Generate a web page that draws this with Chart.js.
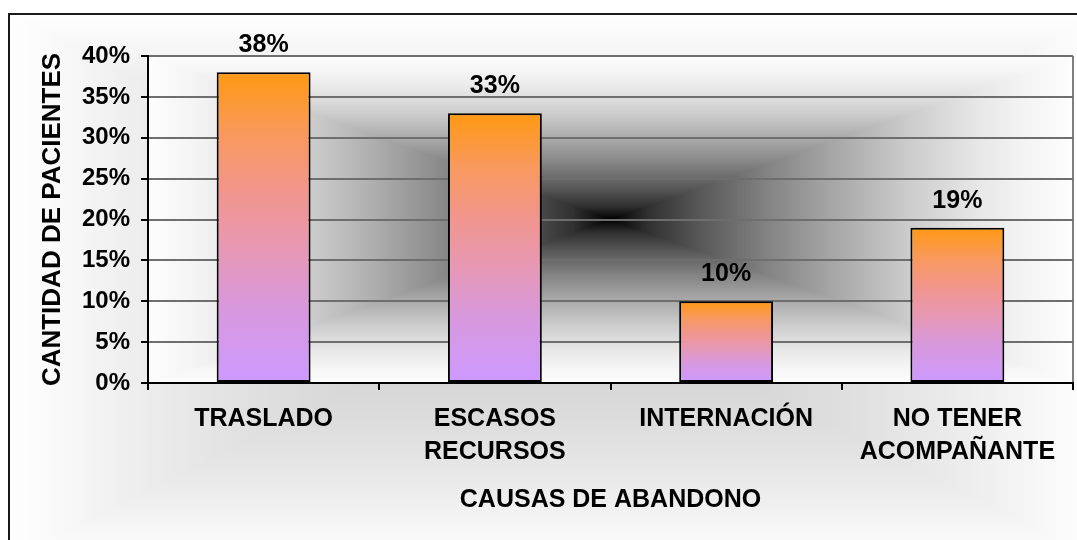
<!DOCTYPE html>
<html><head><meta charset="utf-8">
<script src="https://cdn.jsdelivr.net/npm/chart.js@4.4.1/dist/chart.umd.min.js"></script>
<style>html,body{margin:0;padding:0;background:#fff;overflow:hidden}canvas{display:block}</style>
</head><body>
<canvas id="c" width="1077" height="540"></canvas>
<script>
// ---- data ----
const categories = [['TRASLADO'], ['ESCASOS', 'RECURSOS'], ['INTERNACIÓN'], ['NO TENER', 'ACOMPAÑANTE']];
const values = [38, 33, 10, 19];
const yTickValues = [0, 5, 10, 15, 20, 25, 30, 35, 40];
const xTitle = 'CAUSAS DE ABANDONO';
const yTitle = 'CANTIDAD DE PACIENTES';

// ---- styles ----
const FAMILY = '"Liberation Sans", Arial, Helvetica, sans-serif';
const barStops = [[0, '#ff9912'], [0.2, '#f8995e'], [0.4, '#f09590'], [0.55, '#e898b0'], [0.75, '#d898dc'], [1, '#cc99ff']];
const plotGray = [[0, 0], [0.08, 0x30], [0.2, 0x5a], [0.35, 0x86], [0.5, 0xab], [0.65, 0xcd], [0.8, 0xe8], [0.9, 0xf4], [1, 0xfd]];
const outerGray = [[0, 0xc8], [0.3, 0xd4], [0.5, 0xdd], [0.65, 0xe6], [0.8, 0xf0], [0.9, 0xf8], [1, 0xff]];

function interp(stops, t) {
  if (t <= stops[0][0]) return stops[0][1];
  for (let i = 1; i < stops.length; i++) {
    if (t <= stops[i][0]) {
      const [t0, v0] = stops[i - 1], [t1, v1] = stops[i];
      return v0 + (v1 - v0) * (t - t0) / (t1 - t0);
    }
  }
  return stops[stops.length - 1][1];
}

const bgPlugin = {
  id: 'bgGradient',
  beforeDraw(chart) {
    const { ctx, width, height, chartArea: a } = chart;
    const img = ctx.createImageData(width, height);
    const d = img.data;
    const ox0 = 8, oy0 = 14, ox1 = 1100, oy1 = 560;
    const ocx = (ox0 + ox1) / 2, ocy = (oy0 + oy1) / 2, ohw = (ox1 - ox0) / 2, ohh = (oy1 - oy0) / 2;
    const pcx = (a.left + a.right) / 2, pcy = (a.top + a.bottom) / 2, phw = (a.right - a.left) / 2, phh = (a.bottom - a.top) / 2;
    for (let y = 0; y < height; y++) {
      for (let x = 0; x < width; x++) {
        let g = 255;
        const px = x + 0.5, py = y + 0.5;
        if (px >= a.left && px <= a.right && py >= a.top && py <= a.bottom) {
          const t = Math.max(Math.abs(px - pcx) / phw, Math.abs(py - pcy) / phh);
          g = interp(plotGray, t);
        } else if (px >= ox0 && py >= oy0) {
          const t = Math.max(Math.abs(px - ocx) / ohw, Math.abs(py - ocy) / ohh);
          g = interp(outerGray, Math.min(1, t));
        }
        const i = (y * width + x) * 4;
        d[i] = d[i + 1] = d[i + 2] = g;
        d[i + 3] = 255;
      }
    }
    ctx.putImageData(img, 0, 0);
    ctx.save();
    ctx.strokeStyle = '#1a1a1a';
    ctx.lineWidth = 2;
    ctx.beginPath();
    ctx.moveTo(9, height);
    ctx.lineTo(9, 14);
    ctx.lineTo(width, 14);
    ctx.stroke();
    ctx.strokeStyle = '#7f7f7f';
    ctx.beginPath();
    ctx.moveTo(Math.round(a.right), a.top);
    ctx.lineTo(Math.round(a.right), a.bottom);
    ctx.stroke();
    ctx.restore();
  }
};

const labelPlugin = {
  id: 'valueLabels',
  afterDatasetsDraw(chart) {
    const { ctx } = chart;
    const meta = chart.getDatasetMeta(0);
    ctx.save();
    ctx.font = 'bold 25px ' + FAMILY;
    ctx.fillStyle = '#000';
    ctx.textAlign = 'center';
    ctx.textBaseline = 'middle';
    meta.data.forEach((bar, i) => {
      ctx.fillText(values[i] + '%', bar.x, bar.y - 27);
    });
    ctx.restore();
  }
};

new Chart(document.getElementById('c'), {
  type: 'bar',
  data: {
    labels: categories,
    datasets: [{
      data: values,
      backgroundColor(ctx) {
        const chart = ctx.chart;
        if (!chart.chartArea || !chart.scales.y) return '#ff9900';
        const y = chart.scales.y;
        const top = y.getPixelForValue(ctx.raw);
        const bottom = y.getPixelForValue(0);
        const g = chart.ctx.createLinearGradient(0, top, 0, bottom);
        barStops.forEach(([o, c]) => g.addColorStop(o, c));
        return g;
      },
      borderColor: '#000',
      borderWidth: 2,
      borderSkipped: false,
      categoryPercentage: 1,
      barPercentage: 0.406
    }]
  },
  options: {
    responsive: false,
    animation: false,
    events: [],
    layout: { padding: { left: 0, top: 56, right: 4, bottom: 0 } },
    plugins: { legend: { display: false }, tooltip: { enabled: false }, title: { display: false } },
    scales: {
      x: {
        offset: true,
        grid: { display: true, drawOnChartArea: false, drawTicks: true, tickLength: 7, offset: true, color: '#000', lineWidth: 2 },
        border: { display: true, color: '#000', width: 2 },
        ticks: { color: '#000', padding: 13, maxRotation: 0, autoSkip: false, font: { family: FAMILY, size: 25, weight: 'bold', lineHeight: 1.32 } },
        title: { display: true, text: xTitle, color: '#000', padding: { top: 0, bottom: 25 }, font: { family: FAMILY, size: 25, weight: 'bold', lineHeight: 1.2 } },
        afterFit(scale) { scale.height = 540 - 383; }
      },
      y: {
        min: 0,
        max: 40,
        afterBuildTicks(scale) { scale.ticks = yTickValues.map(v => ({ value: v })); },
        grid: { color: '#6e6e6e', lineWidth: 2, tickColor: '#000', tickLength: 7, drawTicks: true },
        border: { display: true, color: '#000', width: 2 },
        ticks: { color: '#000', padding: 11, callback: v => v + '%', font: { family: FAMILY, size: 24, weight: 'bold' } },
        title: { display: true, text: yTitle, color: '#000', padding: { top: 37, bottom: 0 }, font: { family: FAMILY, size: 26, weight: 'bold', lineHeight: 1.2 } },
        afterFit(scale) { scale.width = 148; }
      }
    }
  },
  plugins: [bgPlugin, labelPlugin]
});
</script>
</body></html>
